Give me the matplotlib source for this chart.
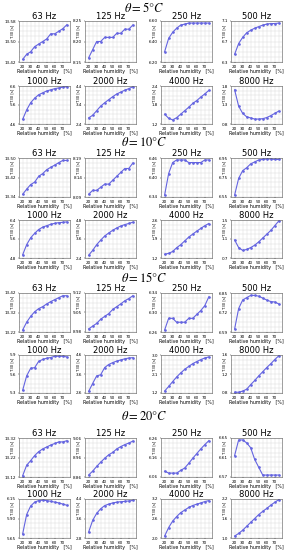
import numpy as np
import matplotlib
matplotlib.use("Agg")
from matplotlib import pyplot as plt
from matplotlib.ticker import AutoMinorLocator

plt.rcParams['mathtext.fontset'] = 'stix'

rh = [20, 25, 30, 35, 40, 45, 50, 55, 60, 65, 70, 75]
freqs = ["63 Hz", "125 Hz", "250 Hz", "500 Hz", "1000 Hz", "2000 Hz", "4000 Hz", "8000 Hz"]
temps = [5, 10, 15, 20]

# T30 values, one list per band, for each temperature
t30_5 = [
    [13.43, 13.45, 13.46, 13.48, 13.49, 13.50, 13.51, 13.53, 13.53, 13.54, 13.55, 13.565],
    [8.16, 8.18, 8.20, 8.20, 8.21, 8.21, 8.21, 8.22, 8.22, 8.23, 8.23, 8.24],
    [6.30, 6.43, 6.49, 6.53, 6.56, 6.57, 6.58, 6.58, 6.58, 6.58, 6.58, 6.58],
    [6.45, 6.66, 6.78, 6.87, 6.92, 6.96, 6.99, 7.02, 7.04, 7.05, 7.05, 7.06],
    [4.84, 5.34, 5.72, 5.96, 6.14, 6.24, 6.34, 6.40, 6.46, 6.50, 6.54, 6.56],
    [2.72, 2.86, 3.10, 3.34, 3.52, 3.68, 3.84, 3.98, 4.08, 4.18, 4.26, 4.36],
    [1.51, 1.38, 1.33, 1.40, 1.51, 1.62, 1.73, 1.85, 1.94, 2.05, 2.15, 2.26],
    [1.70, 1.27, 1.08, 0.99, 0.96, 0.93, 0.93, 0.94, 0.97, 1.02, 1.08, 1.14],
]
t30_10 = [
    [13.351, 13.372, 13.391, 13.401, 13.425, 13.436, 13.452, 13.462, 13.471, 13.481, 13.490, 13.490],
    [8.097, 8.107, 8.107, 8.115, 8.123, 8.123, 8.133, 8.143, 8.153, 8.163, 8.163, 8.177],
    [6.346, 6.412, 6.446, 6.454, 6.454, 6.454, 6.446, 6.446, 6.446, 6.446, 6.454, 6.454],
    [6.57, 6.74, 6.82, 6.85, 6.89, 6.91, 6.93, 6.935, 6.94, 6.94, 6.935, 6.935],
    [4.93, 5.36, 5.65, 5.84, 6.00, 6.10, 6.16, 6.22, 6.26, 6.29, 6.30, 6.32],
    [2.57, 2.88, 3.24, 3.53, 3.79, 3.98, 4.15, 4.30, 4.42, 4.51, 4.58, 4.66],
    [1.34, 1.37, 1.44, 1.58, 1.69, 1.83, 1.97, 2.08, 2.19, 2.29, 2.39, 2.47],
    [1.08, 0.92, 0.86, 0.88, 0.92, 0.97, 1.04, 1.12, 1.20, 1.28, 1.38, 1.48],
]
t30_15 = [
    [13.23, 13.27, 13.30, 13.324, 13.34, 13.35, 13.364, 13.376, 13.386, 13.396, 13.406, 13.406],
    [8.991, 9.001, 9.011, 9.026, 9.036, 9.046, 9.061, 9.071, 9.081, 9.092, 9.100, 9.110],
    [6.264, 6.288, 6.288, 6.280, 6.280, 6.280, 6.288, 6.288, 6.296, 6.304, 6.314, 6.332],
    [6.61, 6.746, 6.803, 6.819, 6.834, 6.834, 6.829, 6.816, 6.803, 6.793, 6.790, 6.777],
    [5.34, 5.57, 5.69, 5.70, 5.80, 5.83, 5.85, 5.86, 5.88, 5.88, 5.88, 5.87],
    [2.68, 3.10, 3.50, 3.56, 3.94, 4.10, 4.20, 4.28, 4.34, 4.40, 4.44, 4.46],
    [1.29, 1.51, 1.74, 1.96, 2.15, 2.32, 2.46, 2.59, 2.69, 2.78, 2.86, 2.91],
    [0.816, 0.816, 0.84, 0.88, 0.976, 1.064, 1.16, 1.248, 1.336, 1.416, 1.504, 1.584],
]
t30_20 = [
    [13.126, 13.18, 13.204, 13.23, 13.25, 13.264, 13.274, 13.284, 13.292, 13.30, 13.30, 13.306],
    [8.87, 8.89, 8.914, 8.936, 8.956, 8.974, 8.986, 9.004, 9.016, 9.026, 9.034, 9.044],
    [6.09, 6.08, 6.08, 6.08, 6.094, 6.106, 6.13, 6.156, 6.18, 6.204, 6.226, 6.246],
    [6.614, 6.646, 6.646, 6.640, 6.630, 6.606, 6.590, 6.574, 6.574, 6.574, 6.574, 6.574],
    [5.70, 5.95, 6.06, 6.11, 6.13, 6.135, 6.13, 6.12, 6.11, 6.10, 6.085, 6.07],
    [3.04, 3.52, 3.81, 4.00, 4.13, 4.19, 4.24, 4.27, 4.29, 4.30, 4.32, 4.34],
    [2.06, 2.32, 2.52, 2.66, 2.78, 2.86, 2.94, 3.00, 3.04, 3.08, 3.12, 3.15],
    [1.06, 1.14, 1.24, 1.36, 1.48, 1.60, 1.72, 1.82, 1.91, 2.01, 2.10, 2.18],
]

# y tick labels (bottom, middle, top) per panel
ticks_5 = [["13.42", "13.50", "13.58"], ["8.15", "8.20", "8.25"], ["6.20", "6.40", "6.60"], ["6.3", "6.7", "7.1"],
           ["4.6", "5.6", "6.6"], ["2.4", "3.4", "4.4"], ["1.2", "1.8", "2.4"], ["0.8", "1.3", "1.8"]]
ticks_10 = [["13.34", "13.42", "13.50"], ["8.09", "8.14", "8.19"], ["6.34", "6.40", "6.46"], ["6.55", "6.75", "6.95"],
            ["4.8", "5.6", "6.4"], ["2.4", "3.6", "4.8"], ["1.2", "1.9", "2.6"], ["0.7", "1.1", "1.5"]]
ticks_15 = [["13.22", "13.32", "13.42"], ["8.98", "9.05", "9.12"], ["6.26", "6.30", "6.34"], ["6.59", "6.72", "6.85"],
            ["5.3", "5.6", "5.9"], ["2.6", "3.6", "4.6"], ["1.2", "2.1", "3.0"], ["0.8", "1.2", "1.6"]]
ticks_20 = [["13.12", "13.22", "13.32"], ["8.86", "8.96", "9.06"], ["6.06", "6.16", "6.26"], ["6.57", "6.61", "6.65"],
            ["5.65", "5.90", "6.15"], ["2.8", "3.6", "4.4"], ["2.0", "2.6", "3.2"], ["1.0", "1.6", "2.2"]]

all_t30 = [t30_5, t30_10, t30_15, t30_20]
all_ticks = [ticks_5, ticks_10, ticks_15, ticks_20]

W, H = 289, 550
fig = plt.figure(figsize=(W / 100., H / 100.), dpi=100)

lefts = [19, 85, 161, 231]
width = 51
rows = [[(21, 62), (86, 124)], [(158, 197), (220, 258)], [(293, 332), (355, 393)], [(438, 477), (499, 538)]]
title_y = [8, 143, 278, 416]

for g, T in enumerate(temps):
    fig.text(0.5, 1 - title_y[g] / H, r'$\theta = %d\degree C$' % T, ha='center', va='center', fontsize=9)
    for i in range(8):
        r, c = divmod(i, 4)
        top, bot = rows[g][r]
        ax = fig.add_axes([lefts[c] / W, 1 - bot / H, width / W, (bot - top) / H])
        ax.plot(rh, all_t30[g][i], color='#6464e0', lw=0.8, marker='.', ms=1.8)
        tk = [float(t) for t in all_ticks[g][i]]
        ax.set_ylim(tk[0], tk[2])
        ax.set_yticks(tk)
        ax.set_yticklabels(all_ticks[g][i])
        ax.set_xlim(15.5, 79)
        ax.set_xticks([20, 30, 40, 50, 60, 70])
        ax.xaxis.set_minor_locator(AutoMinorLocator(2))
        ax.yaxis.set_minor_locator(AutoMinorLocator(4))
        ax.grid(True, which='both', color='#dddddd', lw=0.35)
        ax.set_axisbelow(True)
        ax.tick_params(labelsize=3.0, length=1, width=0.3, pad=1)
        ax.tick_params(which='minor', length=0)
        for s in ax.spines.values():
            s.set_linewidth(0.4)
            s.set_color('#555555')
        ax.set_title(freqs[i], fontsize=6, pad=1.5)
        ax.set_xlabel("Relative humidity   [%]", fontsize=3.4, labelpad=0.5)
        ax.set_ylabel("T30 [s]", fontsize=2.7, labelpad=0)
        ax.yaxis.set_label_coords(-0.1, 0.75)

plt.savefig("out.png", dpi=100)
